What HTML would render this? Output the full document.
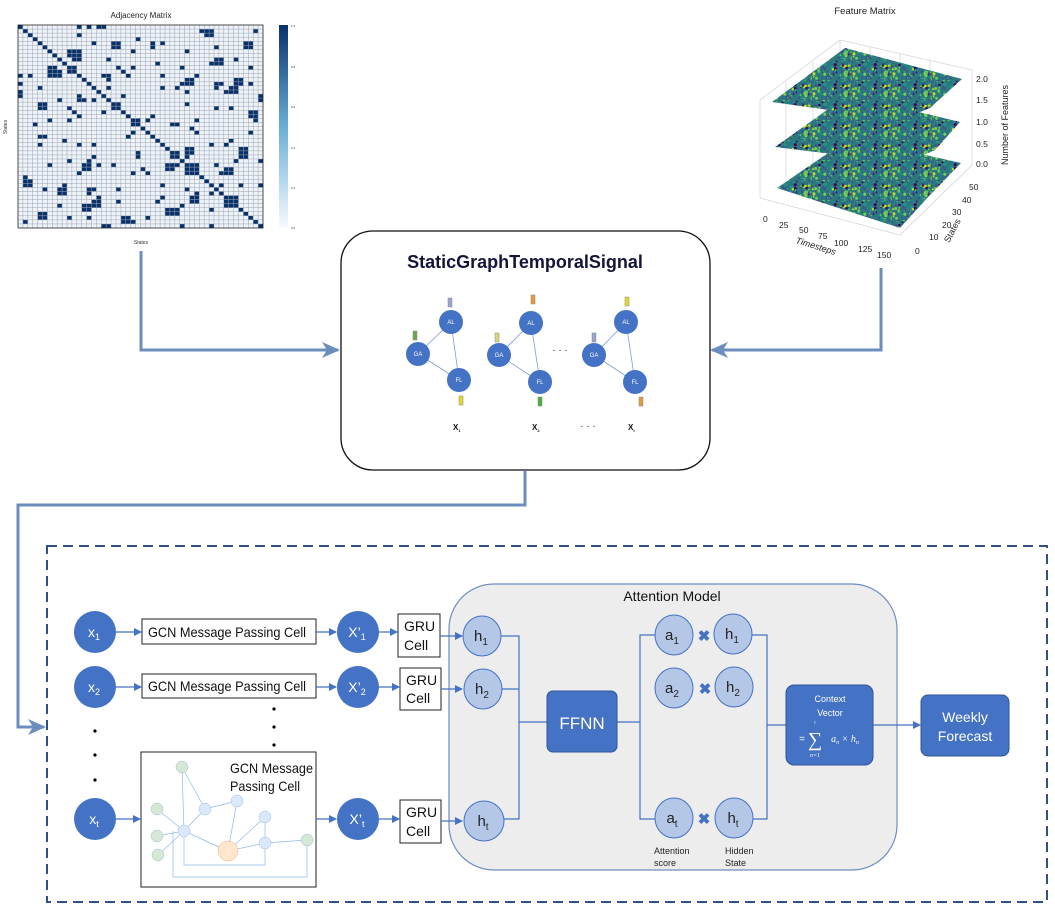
<!DOCTYPE html>
<html><head><meta charset="utf-8"><style>
html,body{margin:0;padding:0;background:#fff;}
svg{display:block;font-family:"Liberation Sans",sans-serif;}
</style></head><body>
<svg id="s" width="1055" height="911" viewBox="0 0 1055 911" xmlns="http://www.w3.org/2000/svg">
<defs>
<marker id="ab" markerWidth="8" markerHeight="8" refX="7" refY="4" orient="auto" markerUnits="userSpaceOnUse"><path d="M0,0 L8,4 L0,8 Z" fill="#4472c4"/></marker>
<marker id="abig" markerWidth="18" markerHeight="16" refX="16" refY="8" orient="auto" markerUnits="userSpaceOnUse"><path d="M0,0 L18,8 L0,16 L5,8 Z" fill="#6c8ebf"/></marker>
<pattern id="vir" width="40" height="20" patternUnits="userSpaceOnUse"><rect width="40" height="20" fill="#2a7a7a"/><g id="virdots"></g></pattern>
<linearGradient id="cb" x1="0" y1="1" x2="0" y2="0"><stop offset="0" stop-color="#f7fbff"/><stop offset="0.5" stop-color="#6aaed6"/><stop offset="1" stop-color="#08306b"/></linearGradient>
</defs>

<!-- Adjacency matrix -->
<text x="141" y="18" font-size="8" text-anchor="middle" fill="#222">Adjacency Matrix</text>
<rect x="18" y="25" width="245" height="203" fill="#eef3fa"/>
<g id="adj"></g>
<rect x="18" y="25" width="245" height="203" fill="none" stroke="#222" stroke-width="0.8"/>
<rect x="279" y="25" width="9" height="203" fill="url(#cb)"/>
<g font-size="3" fill="#333"><text x="291" y="27">1.0</text><text x="291" y="68">0.8</text><text x="291" y="108">0.6</text><text x="291" y="149">0.4</text><text x="291" y="189">0.2</text><text x="291" y="229">0.0</text></g>
<text x="141" y="244" font-size="5" text-anchor="middle" fill="#333">States</text>
<text x="7" y="127" font-size="5" text-anchor="middle" fill="#333" transform="rotate(-90 7 127)">States</text>

<!-- Feature Matrix -->
<text x="865" y="14" font-size="9.5" text-anchor="middle" fill="#222">Feature Matrix</text>
<g stroke="#ccc" stroke-width="0.6" fill="none">
<path d="M760,100 L840,40 L972,70 L972,165 M840,40 L840,150 M760,100 L760,198 L900,235 L972,165"/>
<path d="M786,82 L786,180 M813,62 L813,165 M870,47 L870,150 M900,54 L900,156 M930,61 L930,160"/>
</g>
<g id="layers">
<polygon points="772,102 845,48 962,79 930,108 900,120" fill="url(#vir)"/>
<polygon points="775,147 848,95 960,122 935,150 905,163" fill="url(#vir)"/>
<polygon points="777,188 850,138 961,163 930,195 900,228" fill="url(#vir)"/>
</g>
<g font-size="8.5" fill="#222">
<text x="976" y="82">2.0</text><text x="976" y="103">1.5</text><text x="976" y="125">1.0</text><text x="976" y="147">0.5</text><text x="976" y="167">0.0</text>
<text x="969" y="190">50</text><text x="962" y="203">40</text><text x="952" y="215">30</text><text x="942" y="228">20</text><text x="929" y="240">10</text><text x="915" y="254">0</text>
<text x="763" y="222">0</text><text x="779" y="228">25</text><text x="799" y="233">50</text><text x="818" y="239">75</text><text x="834" y="246">100</text><text x="858" y="252">125</text><text x="877" y="258">150</text>
</g>
<text x="1008" y="125" font-size="9" fill="#222" text-anchor="middle" transform="rotate(-90 1008 125)">Number of Features</text>
<text x="955" y="232" font-size="9" fill="#222" text-anchor="middle" transform="rotate(-62 955 232)">States</text>
<text x="815" y="249" font-size="9" fill="#222" font-style="italic" text-anchor="middle" transform="rotate(17 815 249)">Timesteps</text>

<!-- thick connectors -->
<g stroke="#6c8ebf" stroke-width="3" fill="none">
<path d="M141,251 L141,350 L338,350" marker-end="url(#abig)"/>
<path d="M881,268 L881,350 L712,350" marker-end="url(#abig)"/>
<path d="M525,471 L525,505 L18,505 L18,727 L44,727" marker-end="url(#abig)"/>
</g>

<!-- StaticGraphTemporalSignal -->
<rect x="341" y="231" width="369" height="239" rx="32" fill="#fff" stroke="#111" stroke-width="1.3"/>
<text x="525" y="268" font-size="18" font-weight="bold" text-anchor="middle" fill="#14143a">StaticGraphTemporalSignal</text>
<g stroke="#7d9bd3" stroke-width="0.8">
<line x1="451" y1="322" x2="418" y2="354"/><line x1="451" y1="322" x2="459" y2="380"/><line x1="418" y1="354" x2="459" y2="380"/>
<line x1="531" y1="323" x2="499" y2="355"/><line x1="531" y1="323" x2="540" y2="382"/><line x1="499" y1="355" x2="540" y2="382"/>
<line x1="626" y1="322" x2="594" y2="355"/><line x1="626" y1="322" x2="635" y2="382"/><line x1="594" y1="355" x2="635" y2="382"/>
</g>
<g fill="#4472c4">
<ellipse cx="451" cy="322" rx="12" ry="12"/><ellipse cx="418" cy="354" rx="12" ry="12"/><ellipse cx="459" cy="380" rx="12" ry="12"/>
<ellipse cx="531" cy="323" rx="12" ry="12"/><ellipse cx="499" cy="355" rx="12" ry="12"/><ellipse cx="540" cy="382" rx="12" ry="12"/>
<ellipse cx="626" cy="322" rx="12" ry="12"/><ellipse cx="594" cy="355" rx="12" ry="12"/><ellipse cx="635" cy="382" rx="12" ry="12"/>
</g>
<g fill="#fff" font-size="6" text-anchor="middle">
<text x="451" y="324">AL</text><text x="418" y="356">GA</text><text x="459" y="382">FL</text>
<text x="531" y="325">AL</text><text x="499" y="357">GA</text><text x="540" y="384">FL</text>
<text x="626" y="324">AL</text><text x="594" y="357">GA</text><text x="635" y="384">FL</text>
</g>
<g stroke="#888" stroke-width="0.5">
<rect x="448" y="298" width="4" height="9" fill="#9aa6d0"/><rect x="413" y="331" width="4" height="9" fill="#6aa84f"/><rect x="459" y="396" width="4" height="9" fill="#e6d52a"/>
<rect x="531" y="295" width="4" height="9" fill="#e69a3a"/><rect x="495" y="333" width="4" height="9" fill="#d9d67a"/><rect x="538" y="397" width="4" height="9" fill="#4caf3a"/>
<rect x="625" y="297" width="4" height="9" fill="#e6d52a"/><rect x="592" y="333" width="4" height="9" fill="#9aa6d0"/><rect x="639" y="397" width="4" height="9" fill="#e69a3a"/>
</g>
<text x="560" y="353" font-size="10" text-anchor="middle" fill="#222">· · ·</text>
<g font-size="8" font-weight="bold" fill="#111">
<text x="453" y="430">X<tspan font-size="4" dy="2">1</tspan></text>
<text x="532" y="430">X<tspan font-size="4" dy="2">2</tspan></text>
<text x="628" y="430">X<tspan font-size="4" dy="2">t</tspan></text>
</g>
<text x="588" y="429" font-size="10" text-anchor="middle" fill="#222">· · ·</text>

<!-- dashed box -->
<rect x="47" y="546" width="1000" height="356" fill="none" stroke="#2f4f8a" stroke-width="2" stroke-dasharray="10,6"/>

<!-- Attention model -->
<rect x="449" y="584" width="448" height="286" rx="45" fill="#ededed" stroke="#6c8ebf" stroke-width="1.2"/>
<text x="672" y="601" font-size="14" text-anchor="middle" fill="#111">Attention Model</text>

<!-- left column -->
<g fill="#4472c4">
<circle cx="95" cy="632" r="21"/><circle cx="95" cy="687" r="21"/><circle cx="95" cy="819" r="21"/>
<circle cx="358" cy="632" r="21"/><circle cx="358" cy="687" r="21"/><circle cx="358" cy="819" r="21"/>
</g>
<g fill="#fff" font-size="14" text-anchor="middle">
<text x="94" y="637">x<tspan font-size="9" dy="3">1</tspan></text>
<text x="94" y="692">x<tspan font-size="9" dy="3">2</tspan></text>
<text x="94" y="824">x<tspan font-size="9" dy="3">t</tspan></text>
<text x="357" y="637">X’<tspan font-size="9" dy="3">1</tspan></text>
<text x="357" y="692">X’<tspan font-size="9" dy="3">2</tspan></text>
<text x="357" y="824">X’<tspan font-size="9" dy="3">t</tspan></text>
</g>
<g fill="#000"><circle cx="95" cy="731" r="1.6"/><circle cx="95" cy="755" r="1.6"/><circle cx="95" cy="780" r="1.6"/>
<circle cx="274" cy="709" r="1.6"/><circle cx="274" cy="727" r="1.6"/><circle cx="274" cy="745" r="1.6"/></g>
<g fill="#fff" stroke="#222" stroke-width="1">
<rect x="142" y="619" width="174" height="25"/><rect x="142" y="674" width="174" height="24"/>
<rect x="141" y="752" width="175" height="135"/>
<rect x="398" y="614" width="42" height="43"/><rect x="400" y="668" width="41" height="42"/><rect x="400" y="800" width="41" height="43"/>
</g>
<g font-size="14" fill="#111">
<text x="148" y="637" textLength="158" lengthAdjust="spacingAndGlyphs">GCN Message Passing Cell</text>
<text x="148" y="691" textLength="158" lengthAdjust="spacingAndGlyphs">GCN Message Passing Cell</text>
<text x="230" y="773" textLength="83" lengthAdjust="spacingAndGlyphs">GCN Message</text>
<text x="230" y="791" textLength="70" lengthAdjust="spacingAndGlyphs">Passing Cell</text>
<text x="404" y="631">GRU</text><text x="404" y="650">Cell</text>
<text x="406" y="685">GRU</text><text x="406" y="703">Cell</text>
<text x="406" y="817">GRU</text><text x="406" y="836">Cell</text>
</g>
<!-- mini graph -->
<g stroke="#8fb8ea" stroke-width="0.7" fill="none">
<path d="M182,767 L184,831 M157,809 L184,831 M157,836 L184,831 M158,855 L184,831 M205,809 L184,831 M184,831 L228,851 M205,809 L237,801 M205,809 L182,767 M237,801 L228,851 M265,817 L228,851 M265,843 L228,851 M265,843 L265,817 M307,840 L265,843 M184,831 L184,865 L265,865 L265,843 M307,840 L307,877 L173,877 L173,831"/>
</g>
<g stroke="#9fbfe0" stroke-width="0.5">
<circle cx="182" cy="767" r="6" fill="#d5e8d4"/><circle cx="157" cy="809" r="6" fill="#d5e8d4"/><circle cx="157" cy="836" r="6" fill="#d5e8d4"/><circle cx="158" cy="855" r="6" fill="#d5e8d4"/><circle cx="307" cy="840" r="6" fill="#d5e8d4"/>
<circle cx="184" cy="831" r="6" fill="#dae8fc"/><circle cx="205" cy="809" r="6" fill="#dae8fc"/><circle cx="237" cy="801" r="6" fill="#dae8fc"/><circle cx="265" cy="817" r="6" fill="#dae8fc"/><circle cx="265" cy="843" r="6" fill="#dae8fc"/>
<circle cx="228" cy="851" r="10" fill="#ffe6cc" stroke="#e0b080"/>
</g>

<!-- small arrows -->
<g stroke="#4472c4" stroke-width="1.2" fill="none" marker-end="url(#ab)">
<line x1="116" y1="632" x2="141" y2="632"/><line x1="116" y1="687" x2="141" y2="687"/><line x1="116" y1="819" x2="140" y2="819"/>
<line x1="316" y1="632" x2="336" y2="632"/><line x1="316" y1="687" x2="336" y2="687"/><line x1="316" y1="819" x2="336" y2="819"/>
<line x1="379" y1="632" x2="397" y2="632"/><line x1="379" y1="687" x2="399" y2="687"/><line x1="379" y1="819" x2="399" y2="819"/>
<line x1="440" y1="636" x2="462" y2="636"/><line x1="441" y1="689" x2="462" y2="689"/><line x1="441" y1="821" x2="462" y2="821"/>
<line x1="873" y1="725" x2="920" y2="725"/>
</g>
<g stroke="#4472c4" stroke-width="1.2" fill="none">
<path d="M501,636 L519,636 L519,819 L501,819 M501,689 L519,689 M519,722 L547,722"/>
<path d="M617,722 L640,722 M655,635 L640,635 L640,819 L655,819"/>
<path d="M752,635 L767,635 L767,819 L752,819 M767,725 L786,725"/>
</g>
<g fill="#b4c7e7" stroke="#4472c4" stroke-width="1">
<ellipse cx="482" cy="636" rx="19" ry="20"/><ellipse cx="483" cy="689" rx="19" ry="20"/><ellipse cx="484" cy="821" rx="20" ry="20"/>
<ellipse cx="674" cy="635" rx="19" ry="20"/><ellipse cx="674" cy="688" rx="19" ry="20"/><ellipse cx="674" cy="818" rx="19" ry="20"/>
<ellipse cx="733" cy="634" rx="19" ry="20"/><ellipse cx="734" cy="687" rx="19" ry="20"/><ellipse cx="734" cy="818" rx="19" ry="20"/>
</g>
<g font-size="15" fill="#222" text-anchor="middle">
<text x="481" y="641">h<tspan font-size="10" dy="4">1</tspan></text>
<text x="482" y="694">h<tspan font-size="10" dy="4">2</tspan></text>
<text x="483" y="826">h<tspan font-size="10" dy="4">t</tspan></text>
<text x="672" y="640">a<tspan font-size="10" dy="4">1</tspan></text>
<text x="672" y="693">a<tspan font-size="10" dy="4">2</tspan></text>
<text x="672" y="823">a<tspan font-size="10" dy="4">t</tspan></text>
<text x="732" y="639">h<tspan font-size="10" dy="4">1</tspan></text>
<text x="733" y="692">h<tspan font-size="10" dy="4">2</tspan></text>
<text x="733" y="823">h<tspan font-size="10" dy="4">t</tspan></text>
</g>
<g font-size="15" fill="#4472c4" text-anchor="middle" font-weight="bold">
<text x="704" y="641">✖</text><text x="705" y="694">✖</text><text x="704" y="824">✖</text>
</g>
<g font-size="9" fill="#222">
<text x="654" y="854">Attention</text><text x="654" y="866">score</text>
<text x="725" y="854">Hidden</text><text x="725" y="866">State</text>
</g>
<rect x="547" y="691" width="70" height="61" rx="6" fill="#4472c4" stroke="#2f5597"/>
<text x="582" y="729" font-size="17" fill="#fff" text-anchor="middle">FFNN</text>
<rect x="786" y="685" width="87" height="80" rx="8" fill="#4472c4" stroke="#2f5597"/>
<g fill="#fff" text-anchor="middle">
<text x="830" y="702" font-size="9">Context</text><text x="830" y="716" font-size="9">Vector</text>
<text x="815" y="724" font-size="5" font-style="italic" font-family="Liberation Serif">t</text>
<text x="802" y="742" font-size="10">=</text>
<text x="815" y="746" font-size="20" font-family="Liberation Serif">∑</text>
<text x="815" y="757" font-size="6" font-style="italic" font-family="Liberation Serif">n=1</text>
<text x="845" y="742" font-size="10" font-style="italic" font-family="Liberation Serif">a<tspan font-size="6" dy="2">n</tspan><tspan dy="-2"> × h</tspan><tspan font-size="6" dy="2">n</tspan></text>
</g>
<rect x="921" y="695" width="88" height="61" rx="7" fill="#4472c4" stroke="#2f5597"/>
<text x="965" y="722" font-size="14" fill="#fff" text-anchor="middle">Weekly</text>
<text x="965" y="741" font-size="14" fill="#fff" text-anchor="middle">Forecast</text>
</svg>
<script>
(function(){
var seed=12345;function r(){seed=(seed*1103515245+12345)%2147483648;return seed/2147483648;}
var g=document.getElementById("adj");var x0=18,y0=25,w=245/50,h=203/50,s="";
var M=[];for(var i=0;i<50;i++){M.push([]);for(var j=0;j<50;j++)M[i].push(i==j);}
for(var n=0;n<95;n++){var a=Math.floor(r()*50),b=Math.floor(r()*50);var big=r()<0.25;
for(var di=0;di<(big?2:1);di++)for(var dj=0;dj<(big?2:1);dj++){var p=Math.min(49,a+di),q=Math.min(49,b+dj);M[p][q]=true;M[q][p]=true;}}
for(var i=0;i<50;i++){for(var j=0;j<50;j++){if(M[i][j]){s+='<rect x="'+(x0+j*w).toFixed(2)+'" y="'+(y0+i*h).toFixed(2)+'" width="'+w.toFixed(2)+'" height="'+h.toFixed(2)+'" fill="#08306b"/>';}}}
for(var k=1;k<50;k++){s+='<line x1="'+(x0+k*w).toFixed(2)+'" y1="25" x2="'+(x0+k*w).toFixed(2)+'" y2="228" stroke="#9aa3ad" stroke-width="0.5"/>';s+='<line x1="18" y1="'+(y0+k*h).toFixed(2)+'" x2="263" y2="'+(y0+k*h).toFixed(2)+'" stroke="#9aa3ad" stroke-width="0.5"/>';}
g.innerHTML=s;
var cols=["#440154","#3b528b","#3b528b","#21918c","#21918c","#5ec962","#bddf26","#2c728e","#2c728e","#7ad151","#31688e"];var t="";
for(var n=0;n<160;n++){t+='<circle cx="'+(r()*40).toFixed(1)+'" cy="'+(r()*20).toFixed(1)+'" r="'+(0.6+r()*1.0).toFixed(1)+'" fill="'+cols[Math.floor(r()*cols.length)]+'"/>';}
document.getElementById("virdots").innerHTML=t;
})();
</script>
</body></html>
